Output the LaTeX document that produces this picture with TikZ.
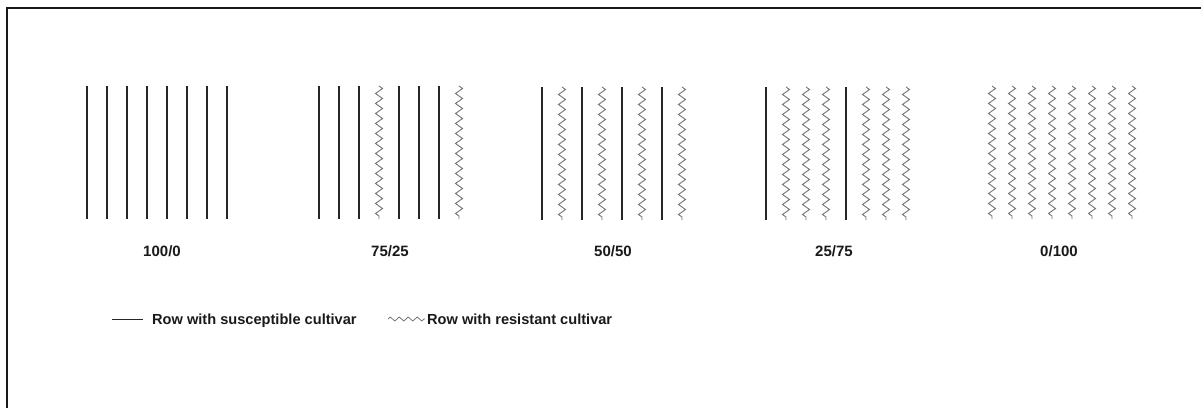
\documentclass[tikz,border=0pt]{standalone}
\usepackage{fontspec}
\setmainfont{Liberation Sans}
\usetikzlibrary{decorations.pathmorphing}
\begin{document}
\begin{tikzpicture}[x=1pt,y=-1pt,
  susceptible/.style={line width=1.8pt, draw=black!85},
  resistant/.style={line width=0.9pt, draw=black!55, decorate,
    decoration={zigzag, segment length=10pt, amplitude=3.5pt}},
  ratio/.style={font=\bfseries\fontsize{15}{18}\selectfont, text=black!90,
    inner sep=0pt, anchor=base},
  legendtext/.style={font=\bfseries\fontsize{14.6}{17}\selectfont, text=black!90,
    inner sep=0pt, anchor=base west}]
\useasboundingbox (0,0) rectangle (1201,408);

% frame
\draw[line width=1.8pt, black!90] (1201,8) -- (7,8) -- (7,408);

% 100/0
\foreach \i in {0,...,7}
  \draw[susceptible] (87+20*\i,86) -- (87+20*\i,219);
\node[ratio] (r1) at (162,256) {100/0};

% 75/25
\foreach \i in {0,1,2,4,5,6}
  \draw[susceptible] (319+20*\i,86) -- (319+20*\i,219);
\foreach \i in {3,7}
  \draw[resistant] (319+20*\i,86) -- (319+20*\i,219);
\node[ratio] (r2) at (390,256) {75/25};

% 50/50
\foreach \i in {0,2,4,6}
  \draw[susceptible] (542+20*\i,87) -- (542+20*\i,220);
\foreach \i in {1,3,5,7}
  \draw[resistant] (542+20*\i,87) -- (542+20*\i,220);
\node[ratio] (r3) at (613,256) {50/50};

% 25/75
\foreach \i in {0,4}
  \draw[susceptible] (766+20*\i,87) -- (766+20*\i,220);
\foreach \i in {1,2,3,5,6,7}
  \draw[resistant] (766+20*\i,87) -- (766+20*\i,220);
\node[ratio] (r4) at (834,256) {25/75};

% 0/100
\foreach \i in {0,...,7}
  \draw[resistant] (992+20*\i,86) -- (992+20*\i,219);
\node[ratio] (r5) at (1059,256) {0/100};

% legend
\coordinate (ls0) at (112,319);
\coordinate (ls1) at (143,319);
\draw[line width=0.9pt, black!85] (ls0) -- (ls1);
\node[legendtext] (lt1) at (152,324) {Row with susceptible cultivar};
\coordinate (lr0) at (388,319);
\coordinate (lr1) at (425,319);
\draw[line width=0.7pt, black!60, decorate,
  decoration={zigzag, segment length=9pt, amplitude=2pt}] (lr0) -- (lr1);
\node[legendtext] (lt2) at (427,324) {Row with resistant cultivar};
\end{tikzpicture}
\end{document}
